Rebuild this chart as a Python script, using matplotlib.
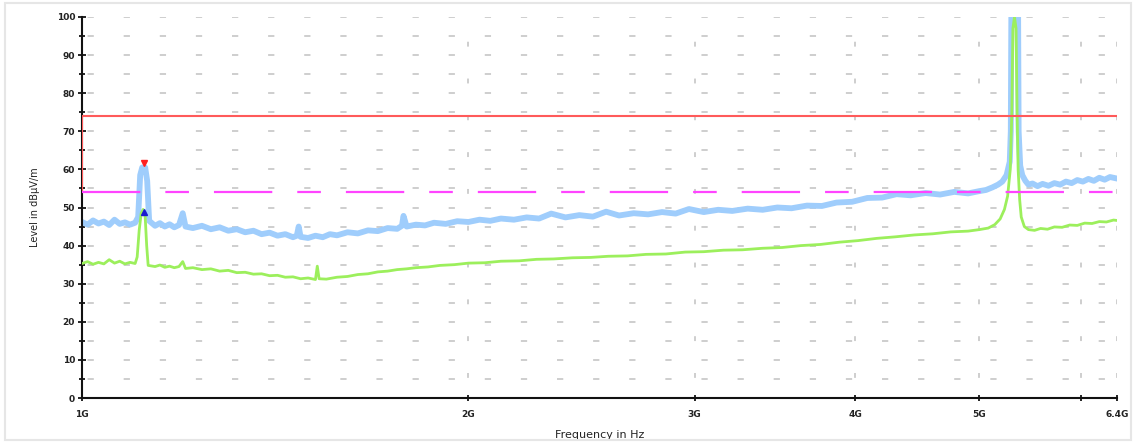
import matplotlib
matplotlib.use('Agg')
import matplotlib.pyplot as plt
from matplotlib.patches import Rectangle
from matplotlib.ticker import FixedLocator, NullLocator, MultipleLocator

plt.rcParams['lines.scale_dashes'] = False

# peak detector trace (light blue), frequency in GHz, level in dBuV/m
peak_freq = [1.00, 1.01, 1.02, 1.03, 1.04, 1.05, 1.06, 1.07, 1.08, 1.09, 1.10,
             1.106, 1.110, 1.114, 1.120, 1.124, 1.128, 1.14, 1.15, 1.16, 1.17,
             1.18, 1.19, 1.198, 1.204, 1.22, 1.24, 1.26, 1.28, 1.30, 1.32, 1.34,
             1.36, 1.38, 1.40, 1.42, 1.44, 1.46, 1.47, 1.475, 1.48, 1.50, 1.52,
             1.54, 1.56, 1.58, 1.61, 1.64, 1.67, 1.70, 1.73, 1.76, 1.775, 1.78,
             1.79, 1.82, 1.85, 1.88, 1.92, 1.96, 2.00, 2.04, 2.08, 2.12, 2.17,
             2.22, 2.27, 2.32, 2.38, 2.44, 2.50, 2.56, 2.62, 2.69, 2.76, 2.83,
             2.90, 2.97, 3.05, 3.13, 3.21, 3.30, 3.39, 3.48, 3.57, 3.67, 3.77,
             3.87, 3.98, 4.09, 4.20, 4.31, 4.42, 4.54, 4.66, 4.78, 4.90, 5.00,
             5.06, 5.12, 5.17, 5.21, 5.25, 5.28, 5.29, 5.295, 5.33, 5.36, 5.365,
             5.38, 5.40, 5.43, 5.46, 5.50, 5.55, 5.60, 5.66, 5.72, 5.78, 5.84,
             5.90, 5.96, 6.02, 6.08, 6.14, 6.20, 6.26, 6.32, 6.40]
peak_level = [46.2, 45.5, 46.6, 45.8, 46.3, 45.4, 46.8, 45.7, 46.1, 45.5, 46.0,
              47.5, 58.5, 60.5, 60.5, 57.0, 46.5, 45.2, 45.9, 45.0, 45.6,
              44.8, 45.4, 48.5, 45.0, 44.6, 45.2, 44.3, 44.8, 43.9, 44.3, 43.5,
              43.9, 43.0, 43.4, 42.6, 43.0, 42.2, 42.6, 45.0, 42.3, 42.0, 42.6,
              42.2, 43.0, 42.7, 43.5, 43.2, 44.0, 43.8, 44.6, 44.4, 45.2, 47.8,
              45.0, 45.5, 45.3, 46.0, 45.7, 46.4, 46.2, 46.8, 46.5, 47.1, 46.8,
              47.4, 47.1, 48.4, 47.4, 48.0, 47.6, 48.9, 47.9, 48.5, 48.2, 48.8,
              48.4, 49.6, 48.8, 49.4, 49.1, 49.7, 49.4, 50.0, 49.8, 50.5, 50.4,
              51.3, 51.5, 52.5, 52.6, 53.5, 53.2, 53.8, 53.4, 54.1, 53.7, 54.3,
              54.6, 55.3, 56.0, 56.8, 58.5, 62.0, 70.0, 100.0, 100.0, 100.0, 70.0,
              61.0, 58.5, 57.0, 56.0, 56.3, 55.6, 56.2, 55.7, 56.4, 56.0, 56.8,
              56.4, 57.2, 56.8, 57.5, 57.0, 57.8, 57.3, 58.0, 57.6]

# average detector trace (light green)
avg_freq = [1.00, 1.01, 1.02, 1.03, 1.04, 1.05, 1.06, 1.07, 1.08, 1.09, 1.10,
            1.104, 1.108, 1.112, 1.116, 1.120, 1.123, 1.126, 1.14, 1.15, 1.16,
            1.17, 1.18, 1.19, 1.198, 1.204, 1.22, 1.24, 1.26, 1.28, 1.30, 1.32,
            1.34, 1.36, 1.38, 1.40, 1.42, 1.44, 1.46, 1.48, 1.50, 1.52, 1.525,
            1.53, 1.55, 1.58, 1.61, 1.64, 1.67, 1.70, 1.73, 1.76, 1.79, 1.82,
            1.86, 1.90, 1.95, 2.00, 2.06, 2.12, 2.19, 2.26, 2.33, 2.41, 2.49,
            2.57, 2.66, 2.75, 2.85, 2.95, 3.05, 3.16, 3.27, 3.39, 3.51, 3.63,
            3.76, 3.89, 4.02, 4.16, 4.30, 4.45, 4.60, 4.75, 4.90, 5.00, 5.08,
            5.14, 5.19, 5.23, 5.26, 5.285, 5.30, 5.31, 5.325, 5.34, 5.35, 5.36,
            5.375, 5.39, 5.42, 5.46, 5.52, 5.58, 5.65, 5.72, 5.80, 5.88, 5.96,
            6.04, 6.12, 6.20, 6.28, 6.36, 6.40]
avg_level = [35.3, 35.8, 35.1, 35.6, 35.2, 36.3, 35.4, 35.9, 35.2, 35.6, 35.3,
             37.0, 44.0, 48.5, 49.5, 47.5, 40.0, 34.8, 34.5, 34.9, 34.3,
             34.6, 34.2, 34.5, 35.8, 34.0, 34.2, 33.7, 33.9, 33.3, 33.5, 32.9,
             33.0, 32.5, 32.6, 32.1, 32.2, 31.7, 31.8, 31.3, 31.5, 31.1, 34.6,
             31.3, 31.2, 31.7, 31.9, 32.4, 32.6, 33.1, 33.3, 33.7, 33.9, 34.2,
             34.4, 34.8, 35.0, 35.4, 35.5, 35.9, 36.0, 36.4, 36.5, 36.8, 36.9,
             37.2, 37.3, 37.7, 37.8, 38.3, 38.4, 38.8, 38.9, 39.3, 39.5, 40.0,
             40.3, 40.9, 41.3, 41.9, 42.3, 42.8, 43.1, 43.6, 43.8, 44.2, 44.6,
             45.5, 47.0, 49.5, 53.0, 60.0, 75.0, 97.0, 100.0, 97.0, 75.0, 60.0,
             52.0, 47.5, 45.0, 44.2, 44.0, 44.5, 44.3, 44.9, 44.8, 45.4, 45.3,
             45.9, 45.8, 46.3, 46.2, 46.7, 46.6]

# limit lines
limit_freq = [1.0, 1.0, 6.4]
limit_level = [54, 74, 74]
avg_limit_freq = [1.0, 6.4]
avg_limit_level = [54, 54]

# markers on the 1.12 GHz signal
marker_freq = 1.117
marker_peak = 61.8
marker_avg = 48.7

xtick_pos = [1, 2, 3, 4, 5, 6, 6.4]
xtick_lab = ['1G', '2G', '3G', '4G', '5G', '', '6.4G']
grid_freq = [2, 3, 4, 5, 6, 6.4]

fig = plt.figure(figsize=(11.36, 4.43), dpi=100)
ax = fig.add_axes([82 / 1136, 45 / 443, 1035 / 1136, 381 / 443])

for y in range(5, 101, 5):
    ax.axhline(y, color='#c6c6c6', lw=1.2, linestyle=(22, (4.5, 21.5)), zorder=0)
for f in grid_freq:
    ax.axvline(f, color='#c6c6c6', lw=1.2, linestyle=(12, (3.5, 23)), zorder=0)

ax.plot(peak_freq, peak_level, color='#9fcdfc', lw=4.2, zorder=2,
        solid_joinstyle='round')
ax.plot(avg_freq, avg_level, color='#9cef5c', lw=2.0, zorder=3,
        solid_joinstyle='round')
ax.plot(limit_freq, limit_level, color='#ff5a5a', lw=1.5, zorder=4)
ax.plot(avg_limit_freq, avg_limit_level, color='#ff44ff', lw=1.6, zorder=4,
        linestyle=(0, (42, 18, 17, 18)))
ax.plot([marker_freq], [marker_peak], marker='v', color='#ff2020', ms=5, zorder=5)
ax.plot([marker_freq], [marker_avg], marker='^', color='#1a1ad0', ms=5, zorder=5)

ax.set_xscale('log')
ax.set_xlim(1, 6.4)
ax.set_ylim(0, 100)
ax.xaxis.set_major_locator(FixedLocator(xtick_pos))
ax.xaxis.set_minor_locator(NullLocator())
ax.set_xticklabels(xtick_lab)
ax.yaxis.set_major_locator(MultipleLocator(10))
ax.yaxis.set_minor_locator(MultipleLocator(5))

for s in ['top', 'right']:
    ax.spines[s].set_visible(False)
for s in ['left', 'bottom']:
    ax.spines[s].set_linewidth(1.5)
    ax.spines[s].set_color('#111111')

ax.tick_params(axis='y', which='major', direction='inout', length=6, width=1.2,
               labelsize=6.5, pad=2, labelcolor='#222222')
ax.tick_params(axis='y', which='minor', direction='inout', length=5, width=1.2)
ax.tick_params(axis='x', which='major', direction='inout', length=5, width=1.2,
               labelsize=6.5, pad=6, labelcolor='#222222')
for lab in ax.get_xticklabels() + ax.get_yticklabels():
    lab.set_fontweight('bold')

ax.set_xlabel('Frequency in Hz', fontsize=8, color='#222222', labelpad=8)
ax.set_ylabel('Level in dBµV/m', fontsize=7, color='#222222', labelpad=12)

fig.patches.append(Rectangle((0.004, 0.006), 0.992, 0.988, transform=fig.transFigure,
                             fill=False, edgecolor='#e6e6e6', lw=1.5))

fig.savefig('out.png', dpi=100)
